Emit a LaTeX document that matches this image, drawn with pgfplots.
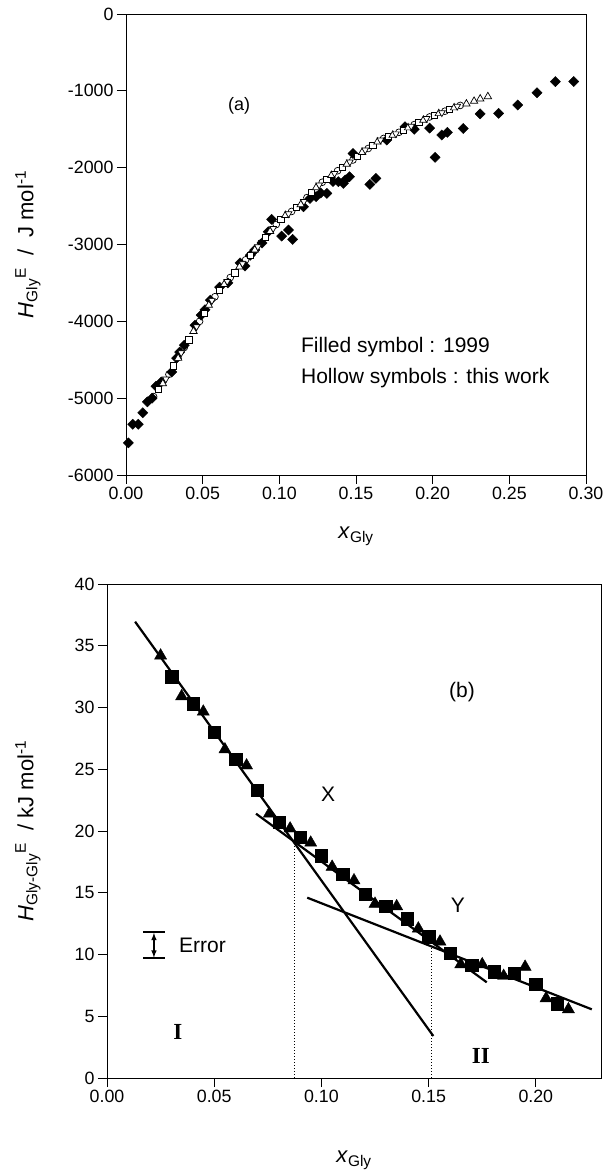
\documentclass[border=0pt]{standalone}
\usepackage{fontspec}
\setmainfont{Liberation Sans}
\newfontfamily\serifbf{Liberation Serif}
\usepackage{pgfplots}
\pgfplotsset{compat=1.18}
\begin{document}
\begin{tikzpicture}
\path[use as bounding box] (0pt,0pt) rectangle (610pt,1172pt);
\pgfplotsset{
  every axis/.append style={
    scale only axis, axis line style={line width=0.8pt}, tick align=outside, tick pos=left,
    major tick length=9pt, every tick/.style={black, line width=0.8pt},
    tick label style={font=\fontsize{17.8}{20}\selectfont},
    clip=false,
  }
}
% ---------------- panel (a)
\begin{axis}[at={(126pt,697pt)}, anchor=south west, width=460pt, height=461pt,
  xmin=0, xmax=0.3, ymin=-6000, ymax=0,
  xtick={0,0.05,0.1,0.15,0.2,0.25,0.3}, xticklabels={0.00,0.05,0.10,0.15,0.20,0.25,0.30},
  ytick={-6000,-5000,-4000,-3000,-2000,-1000,0}, yticklabels={-6000,-5000,-4000,-3000,-2000,-1000,0},
  xlabel={\textit{x}\textsubscript{Gly}},
  ylabel={\textit{H}\textsubscript{Gly}\textsuperscript{E}~~/~~J mol\textsuperscript{-1}},
  x label style={at={(axis description cs:0.5,-0.132)}, anchor=center, font=\fontsize{22}{24}\selectfont},
  y label style={at={(axis description cs:-0.213,0.5)}, anchor=center, font=\fontsize{22}{24}\selectfont},
]
\addplot[only marks, mark=square*, mark size=3.6pt, mark options={rotate=45, fill=black}] coordinates {
(0.0015,-5582) (0.0044,-5340) (0.008,-5340) (0.011,-5190) (0.014,-5048) (0.017,-5000)
(0.0196,-4845) (0.023,-4790) (0.0298,-4660) (0.033,-4480) (0.035,-4400) (0.038,-4310)
(0.045,-4050) (0.049,-3920) (0.0515,-3850) (0.055,-3725) (0.061,-3555) (0.0665,-3500)
(0.0744,-3240) (0.0776,-3280) (0.081,-3140) (0.084,-3070) (0.0887,-2980) (0.0928,-2834)
(0.095,-2673) (0.1015,-2890) (0.106,-2812) (0.1087,-2934) (0.1157,-2509) (0.12,-2400)
(0.124,-2378) (0.127,-2330) (0.131,-2335) (0.135,-2180) (0.1385,-2183) (0.1418,-2205)
(0.143,-2160) (0.1457,-2118) (0.148,-1815) (0.159,-2218) (0.163,-2140) (0.17,-1640)
(0.182,-1467) (0.188,-1500) (0.198,-1485) (0.2016,-1865) (0.206,-1575) (0.2096,-1540)
(0.22,-1490) (0.231,-1300) (0.243,-1293) (0.2555,-1185) (0.268,-1025) (0.280,-880) (0.292,-880)
};
\addplot[only marks, mark=o, mark size=3.4pt, line width=0.7pt, mark options={fill=white}] coordinates {
(0.018,-4980) (0.028,-4690) (0.038,-4340) (0.048,-4000) (0.058,-3680) (0.068,-3430)
(0.078,-3200) (0.088,-2980) (0.098,-2740) (0.108,-2570) (0.118,-2390) (0.128,-2190)
(0.138,-2040) (0.148,-1900) (0.158,-1750) (0.168,-1620) (0.178,-1540) (0.188,-1440)
(0.198,-1340) (0.208,-1265) (0.218,-1190)
};
\addplot[only marks, mark=square*, mark size=3.1pt, line width=0.7pt, mark options={fill=white}] coordinates {
(0.021,-4890) (0.031,-4580) (0.041,-4240) (0.051,-3900) (0.061,-3600) (0.071,-3370)
(0.081,-3140) (0.091,-2910) (0.101,-2670) (0.111,-2520) (0.121,-2320) (0.131,-2150)
(0.141,-1995) (0.151,-1850) (0.161,-1705) (0.171,-1595) (0.181,-1510) (0.191,-1410)
(0.201,-1315) (0.211,-1240)
};
\addplot[only marks, mark=triangle*, mark size=4.3pt, line width=0.7pt, mark options={fill=white}] coordinates {
(0.024,-4810) (0.034,-4480) (0.044,-4130) (0.054,-3790) (0.064,-3520) (0.074,-3290)
(0.084,-3070) (0.094,-2830) (0.104,-2620) (0.114,-2480) (0.124,-2260) (0.134,-2100)
(0.144,-1955) (0.154,-1800) (0.164,-1665) (0.174,-1575) (0.184,-1480) (0.194,-1380)
(0.204,-1295) (0.214,-1220) (0.222,-1170) (0.227,-1135) (0.231,-1105) (0.236,-1075)
};
\addplot[only marks, mark=triangle*, mark size=3.9pt, line width=0.7pt, mark options={rotate=180, fill=white}] coordinates {
(0.026,-4750) (0.036,-4410) (0.046,-4070) (0.056,-3730) (0.066,-3480) (0.076,-3250)
(0.086,-3030) (0.096,-2790) (0.106,-2600) (0.116,-2440) (0.126,-2225) (0.136,-2075)
(0.146,-1925) (0.156,-1770) (0.166,-1640) (0.176,-1560) (0.186,-1460) (0.196,-1360)
(0.206,-1285) (0.216,-1200)
};
\node[font=\fontsize{18}{20}\selectfont] at (axis cs:0.0737,-1198) {(a)};
\node[anchor=west, font=\fontsize{21}{24}\selectfont, inner sep=0pt] at (axis cs:0.1141,-4336) {Filled symbol : 1999};
\node[anchor=west, font=\fontsize{21}{24}\selectfont, inner sep=0pt] at (axis cs:0.1141,-4740) {Hollow symbols : this work};
\end{axis}
% ---------------- panel (b)
\begin{axis}[at={(107pt,94pt)}, anchor=south west, width=494pt, height=494pt,
  xmin=0, xmax=0.2304, ymin=0, ymax=40,
  xtick={0,0.05,0.1,0.15,0.2}, xticklabels={0.00,0.05,0.10,0.15,0.20},
  ytick={0,5,10,15,20,25,30,35,40}, yticklabels={0,5,10,15,20,25,30,35,40},
  xlabel={\textit{x}\textsubscript{Gly}},
  ylabel={\textit{H}\textsubscript{Gly-Gly}\textsuperscript{E}~~/~kJ mol\textsuperscript{-1}},
  x label style={at={(axis description cs:0.5,-0.166)}, anchor=center, font=\fontsize{22}{24}\selectfont},
  y label style={at={(axis description cs:-0.16,0.5)}, anchor=center, font=\fontsize{22}{24}\selectfont},
]
\addplot[line width=2.2pt] coordinates {(0.0131,36.95) (0.1522,3.4)};
\addplot[line width=2.2pt] coordinates {(0.0695,21.4) (0.1771,7.75)};
\addplot[line width=2.2pt] coordinates {(0.0934,14.6) (0.2261,5.56)};
\addplot[dotted, line width=1pt] coordinates {(0.0874,0) (0.0874,19.1)};
\addplot[dotted, line width=1pt] coordinates {(0.1514,0) (0.1514,10.65)};
\addplot[only marks, mark=triangle*, mark size=7pt, fill=black] coordinates {
(0.025,34.2) (0.0348,30.9) (0.0449,29.66) (0.055,26.6) (0.0651,25.3) (0.0757,21.4)
(0.0854,20.2) (0.095,19.05) (0.105,17.1) (0.1152,16.0) (0.125,14.1) (0.1351,13.9)
(0.1452,12.1) (0.1553,11.04) (0.165,9.2) (0.175,9.2) (0.185,8.26) (0.195,9.0)
(0.2048,6.45) (0.2152,5.56)
};
\addplot[only marks, mark=square*, mark size=6.2pt, fill=black] coordinates {
(0.0302,32.5) (0.0403,30.3) (0.050,28.0) (0.060,25.8) (0.0701,23.3) (0.0804,20.7)
(0.090,19.5) (0.100,18.0) (0.110,16.5) (0.1203,14.9) (0.130,13.9) (0.140,12.9)
(0.150,11.44) (0.160,10.1) (0.170,9.15) (0.1805,8.6) (0.190,8.48) (0.200,7.6) (0.210,6.0)
};
% error symbol
\addplot[line width=2pt] coordinates {(0.0168,11.8) (0.027,11.8)};
\addplot[line width=2pt] coordinates {(0.0168,9.7) (0.027,9.7)};
\addplot[line width=1.5pt, -latex] coordinates {(0.0219,10.75) (0.0219,11.75)};
\addplot[line width=1.5pt, -latex] coordinates {(0.0219,10.75) (0.0219,9.75)};
\node[anchor=west, font=\fontsize{21}{24}\selectfont, inner sep=0pt] at (axis cs:0.0336,10.7) {Error};
\node[font=\fontsize{21}{24}\selectfont] at (axis cs:0.1656,31.26) {(b)};
\node[font=\fontsize{21}{24}\selectfont] at (axis cs:0.1031,23.0) {X};
\node[font=\fontsize{21}{24}\selectfont] at (axis cs:0.1637,14.0) {Y};
\node[font=\serifbf\bfseries\fontsize{23}{26}\selectfont] at (axis cs:0.0331,3.72) {I};
\node[font=\serifbf\bfseries\fontsize{23}{26}\selectfont] at (axis cs:0.1744,1.78) {II};
\end{axis}
\end{tikzpicture}
\end{document}
